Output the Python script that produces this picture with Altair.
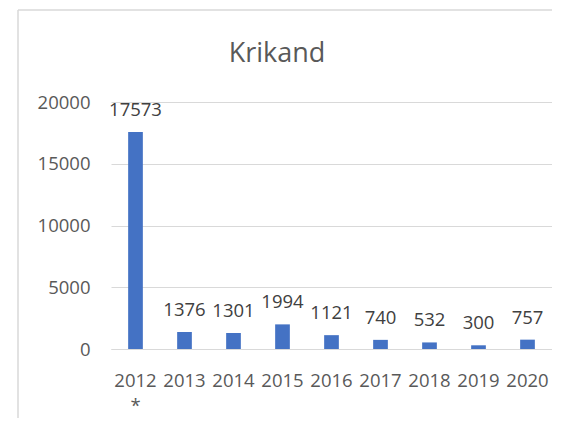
import altair as alt
import pandas as pd

years = ["2012*", "2013", "2014", "2015", "2016", "2017", "2018", "2019", "2020"]
values = [17573, 1376, 1301, 1994, 1121, 740, 532, 300, 757]
title_text = "Krikand"
y_ticks = [0, 5000, 10000, 15000, 20000]

df = pd.DataFrame({"year": years, "value": values})

FONT = "Open Sans"
W, H = 441, 247

x_enc = alt.X(
    "year:N",
    sort=years,
    title=None,
    scale=alt.Scale(paddingInner=0.7, paddingOuter=0.35),
    axis=alt.Axis(
        labelAngle=0,
        labelFont=FONT,
        labelFontSize=18.5,
        labelColor="#595959",
        labelPadding=22,
        labelLineHeight=25,
        labelExpr="datum.value == '2012*' ? ['2012', '*'] : datum.value",
        ticks=False,
        domain=True,
        domainColor="#d9d9d9",
        domainWidth=1,
        grid=False,
    ),
)
y_enc = alt.Y(
    "value:Q",
    title=None,
    scale=alt.Scale(domain=[0, 20000], nice=False),
    axis=alt.Axis(
        values=y_ticks,
        format="d",
        labelFont=FONT,
        labelFontSize=18.5,
        labelColor="#595959",
        labelPadding=21,
        ticks=False,
        domain=False,
        grid=True,
        gridColor="#d9d9d9",
        gridWidth=1,
    ),
)

bars = alt.Chart(df).mark_bar(color="#4472c4").encode(x=x_enc, y=y_enc)
labels = alt.Chart(df).mark_text(
    font=FONT, fontSize=18.5, color="#404040", baseline="alphabetic", dy=-16
).encode(x=alt.X("year:N", sort=years), y=alt.Y("value:Q"), text=alt.Text("value:Q", format="d"))

title = alt.Chart(pd.DataFrame({"t": [title_text]})).mark_text(
    font=FONT, fontSize=27, color="#595959", baseline="alphabetic", align="center"
).encode(x=alt.value(166), y=alt.value(-40), text="t:N")

frame_left = alt.Chart(pd.DataFrame({"a": [0]})).mark_rule(color="#d9d9d9", strokeWidth=1.5).encode(
    x=alt.value(-93), y=alt.value(-92), y2=alt.value(330)
)
frame_top = alt.Chart(pd.DataFrame({"a": [0]})).mark_rule(color="#d9d9d9", strokeWidth=1.5).encode(
    x=alt.value(-93), x2=alt.value(441), y=alt.value(-92)
)

chart = (
    alt.layer(frame_left, frame_top, bars, labels, title)
    .properties(
        width=W,
        height=H,
        autosize=alt.AutoSizeParams(type="none"),
        padding={"left": 103, "top": 94, "right": 0, "bottom": 69},
        background="white",
    )
    .configure_view(stroke=None)
)

chart.save("out.html", embed_options={"renderer": "svg", "actions": False})
